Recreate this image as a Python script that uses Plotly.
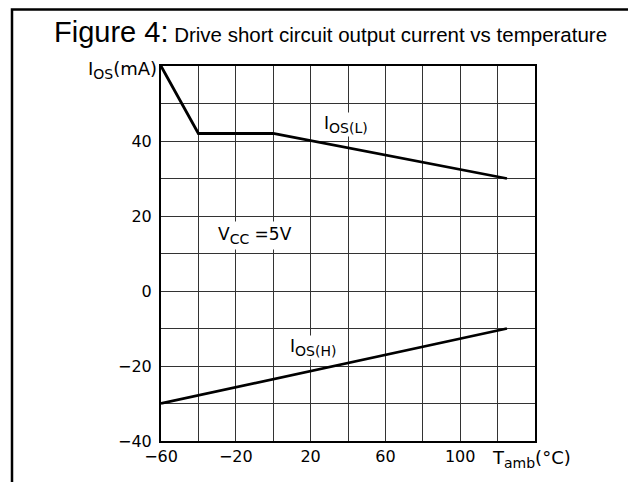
import plotly.graph_objects as go

# Data
temp_L = [-60, -40, 0, 125]
ios_L = [60, 42, 42, 30]
temp_H = [-60, 125]
ios_H = [-30, -10]

x_ticks = [-60, -20, 20, 60, 100]
y_ticks = [-40, -20, 0, 20, 40]
x_grid = [-60, -40, -20, 0, 20, 40, 60, 80, 100, 120, 140]
y_grid = [-40, -30, -20, -10, 0, 10, 20, 30, 40, 50, 60]

W, H = 636, 482
L, R, T, B = 153, 109, 58, 49
pw, ph = W - L - R, H - T - B

def px(p):
    return (p - L) / pw

def py(p):
    return (H - B - p) / ph

FONT = "DejaVu Sans"
fig = go.Figure()
fig.add_trace(go.Scatter(x=temp_L, y=ios_L, mode="lines",
                         line=dict(color="black", width=2.8), showlegend=False))
fig.add_trace(go.Scatter(x=temp_H, y=ios_H, mode="lines",
                         line=dict(color="black", width=2.8), showlegend=False))

grid_col = "#333333"
fig.update_xaxes(range=[-60, 140], tickvals=x_ticks, ticks="", showgrid=True,
                 gridcolor=grid_col, gridwidth=1,
                 minor=dict(tickvals=x_grid, showgrid=True, gridcolor=grid_col, gridwidth=1, ticks=""),
                 showline=True, linecolor="black", linewidth=2, mirror=True,
                 zeroline=False, tickfont=dict(family=FONT, size=16, color="black"))
fig.update_yaxes(range=[-40, 60], tickvals=y_ticks, ticks="", showgrid=True,
                 gridcolor=grid_col, gridwidth=1, ticklabelstandoff=4,
                 minor=dict(tickvals=y_grid, showgrid=True, gridcolor=grid_col, gridwidth=1, ticks=""),
                 showline=True, linecolor="black", linewidth=2, mirror=True,
                 zeroline=False, tickfont=dict(family=FONT, size=16, color="black"))

ann_font = dict(family=FONT, size=17, color="black")
SUB = "<sub><span style='font-size:14px'>{}</span></sub>"
fig.add_annotation(x=38.7, y=44.5, text="I" + SUB.format("OS(L)"), showarrow=False,
                   font=ann_font, bgcolor="white", borderpad=0)
fig.add_annotation(x=21.5, y=-15, text="I" + SUB.format("OS(H)"), showarrow=False,
                   font=ann_font, bgcolor="white", borderpad=0)
fig.add_annotation(x=-10, y=14.7, text="V" + SUB.format("CC") + " =5V", showarrow=False,
                   font=ann_font, bgcolor="white", borderpad=2)
fig.add_annotation(xref="paper", yref="paper", x=px(151), y=py(62), xanchor="right",
                   yanchor="middle", text="I" + SUB.format("OS") + "(mA)", showarrow=False,
                   font=dict(family=FONT, size=18, color="black"))
fig.add_annotation(xref="paper", yref="paper", x=px(482), y=py(451), xanchor="left",
                   yanchor="middle", text="T" + SUB.format("amb") + "(°C)", showarrow=False,
                   font=dict(family=FONT, size=18, color="black"))
fig.add_annotation(xref="paper", yref="paper", x=px(322), y=py(24), xanchor="center",
                   yanchor="middle",
                   text="<span style='font-size:29px'>Figure 4:</span> Drive short circuit output current vs temperature",
                   showarrow=False, font=dict(family="Liberation Sans", size=20.5, color="black"))

# outer frame (left, top, right)
fig.add_shape(type="path", xref="paper", yref="paper",
              path=f"M {px(4)} {py(482)} L {px(4)} {py(1.5)} L {px(634.5)} {py(1.5)} L {px(634.5)} {py(482)}",
              line=dict(color="black", width=2.5))

fig.update_layout(width=W, height=H, margin=dict(l=L, r=R, t=T, b=B, autoexpand=False),
                  plot_bgcolor="white", paper_bgcolor="white", showlegend=False)
fig.write_html("out.html")
